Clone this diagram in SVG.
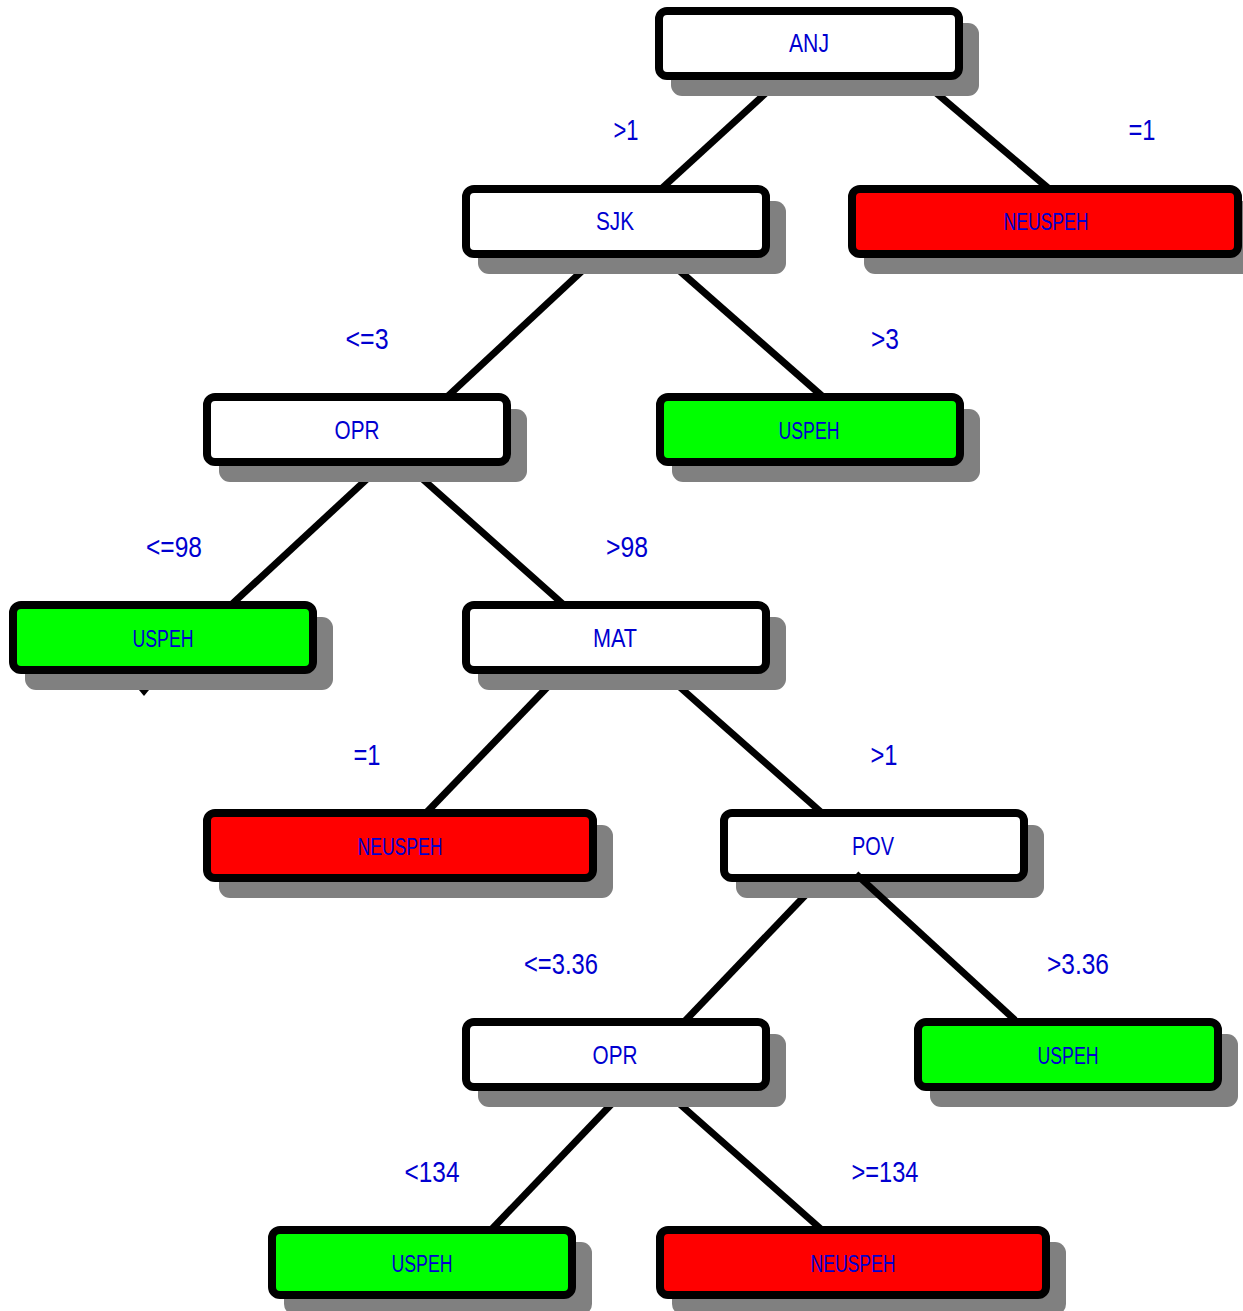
<svg xmlns="http://www.w3.org/2000/svg" width="1243" height="1311" viewBox="0 0 1243 1311">
<style>
.sh{fill:#808080}
.bx{stroke:#000;stroke-width:8}
.w{fill:#fff}.r{fill:#ff0000}.g{fill:#00ff00}
.t{font-family:"Liberation Sans",Arial,sans-serif;font-size:25px;fill:#0000d0;text-anchor:middle}
.lt{font-size:23px}
.lb{font-family:"Liberation Sans",Arial,sans-serif;font-size:29px;fill:#0000d0;text-anchor:middle}
.e{stroke:#000;stroke-width:7;fill:none}
</style>
<rect width="1243" height="1311" fill="#fff"/>
<g id="connectors">
<line class="e" x1="780" y1="80" x2="660" y2="190"/>
<line class="e" x1="921" y1="80" x2="1048" y2="188"/>
<line class="e" x1="596" y1="258" x2="448" y2="396"/>
<line class="e" x1="665" y1="258" x2="822" y2="396"/>
<line class="e" x1="381" y1="466" x2="231" y2="605"/>
<line class="e" x1="408" y1="466" x2="564" y2="605"/>
<line class="e" x1="560" y1="674" x2="426" y2="813"/>
<line class="e" x1="665" y1="674" x2="822" y2="813"/>
<line class="e" x1="818" y1="882" x2="684" y2="1022"/>
<line class="e" x1="624" y1="1091" x2="491" y2="1230"/>
<line class="e" x1="665" y1="1091" x2="822" y2="1230"/>
<polygon points="139,690 149,690 144,696" fill="#000"/>
</g>
<g id="labels">
<text class="lb" x="626" y="140" textLength="25" lengthAdjust="spacingAndGlyphs">&gt;1</text>
<text class="lb" x="1142" y="140" textLength="27" lengthAdjust="spacingAndGlyphs">=1</text>
<text class="lb" x="367" y="349" textLength="43" lengthAdjust="spacingAndGlyphs">&lt;=3</text>
<text class="lb" x="885" y="349" textLength="28" lengthAdjust="spacingAndGlyphs">&gt;3</text>
<text class="lb" x="174" y="557" textLength="56" lengthAdjust="spacingAndGlyphs">&lt;=98</text>
<text class="lb" x="627" y="557" textLength="42" lengthAdjust="spacingAndGlyphs">&gt;98</text>
<text class="lb" x="367" y="765" textLength="27" lengthAdjust="spacingAndGlyphs">=1</text>
<text class="lb" x="884" y="765" textLength="27" lengthAdjust="spacingAndGlyphs">&gt;1</text>
<text class="lb" x="561" y="974" textLength="74" lengthAdjust="spacingAndGlyphs">&lt;=3.36</text>
<text class="lb" x="1078" y="974" textLength="62" lengthAdjust="spacingAndGlyphs">&gt;3.36</text>
<text class="lb" x="432" y="1182" textLength="55" lengthAdjust="spacingAndGlyphs">&lt;134</text>
<text class="lb" x="885" y="1182" textLength="67" lengthAdjust="spacingAndGlyphs">&gt;=134</text>
</g>
<g id="n-anj"><rect class="sh" x="671" y="23" width="308" height="73" rx="11"/><rect class="bx w" x="659" y="11" width="300" height="65" rx="8"/><text class="t" x="809" y="52" textLength="40" lengthAdjust="spacingAndGlyphs">ANJ</text></g>
<g id="n-sjk"><rect class="sh" x="478" y="201" width="308" height="73" rx="11"/><rect class="bx w" x="466" y="189" width="300" height="65" rx="8"/><text class="t" x="615" y="230" textLength="38" lengthAdjust="spacingAndGlyphs">SJK</text></g>
<g id="n-neuspeh1"><rect class="sh" x="864" y="201" width="394" height="73" rx="11"/><rect class="bx r" x="852" y="189" width="386" height="65" rx="8"/><text class="t lt" x="1046" y="230" textLength="85" lengthAdjust="spacingAndGlyphs">NEUSPEH</text></g>
<g id="n-opr1"><rect class="sh" x="219" y="409" width="308" height="73" rx="11"/><rect class="bx w" x="207" y="397" width="300" height="65" rx="8"/><text class="t" x="357" y="439" textLength="45" lengthAdjust="spacingAndGlyphs">OPR</text></g>
<g id="n-uspeh1"><rect class="sh" x="672" y="409" width="308" height="73" rx="11"/><rect class="bx g" x="660" y="397" width="300" height="65" rx="8"/><text class="t lt" x="809" y="439" textLength="61" lengthAdjust="spacingAndGlyphs">USPEH</text></g>
<g id="n-uspeh2"><rect class="sh" x="25" y="617" width="308" height="73" rx="11"/><rect class="bx g" x="13" y="605" width="300" height="65" rx="8"/><text class="t lt" x="163" y="647" textLength="61" lengthAdjust="spacingAndGlyphs">USPEH</text></g>
<g id="n-mat"><rect class="sh" x="478" y="617" width="308" height="73" rx="11"/><rect class="bx w" x="466" y="605" width="300" height="65" rx="8"/><text class="t" x="615" y="647" textLength="44" lengthAdjust="spacingAndGlyphs">MAT</text></g>
<g id="n-neuspeh2"><rect class="sh" x="219" y="825" width="394" height="73" rx="11"/><rect class="bx r" x="207" y="813" width="386" height="65" rx="8"/><text class="t lt" x="400" y="855" textLength="85" lengthAdjust="spacingAndGlyphs">NEUSPEH</text></g>
<g id="n-pov"><rect class="sh" x="736" y="825" width="308" height="73" rx="11"/><rect class="bx w" x="724" y="813" width="300" height="65" rx="8"/><text class="t" x="873" y="855" textLength="42" lengthAdjust="spacingAndGlyphs">POV</text></g>
<g id="n-opr2"><rect class="sh" x="478" y="1034" width="308" height="73" rx="11"/><rect class="bx w" x="466" y="1022" width="300" height="65" rx="8"/><text class="t" x="615" y="1064" textLength="45" lengthAdjust="spacingAndGlyphs">OPR</text></g>
<g id="n-uspeh3"><rect class="sh" x="930" y="1034" width="308" height="73" rx="11"/><rect class="bx g" x="918" y="1022" width="300" height="65" rx="8"/><text class="t lt" x="1068" y="1064" textLength="61" lengthAdjust="spacingAndGlyphs">USPEH</text></g>
<g id="n-uspeh4"><rect class="sh" x="284" y="1242" width="308" height="73" rx="11"/><rect class="bx g" x="272" y="1230" width="300" height="65" rx="8"/><text class="t lt" x="422" y="1272" textLength="61" lengthAdjust="spacingAndGlyphs">USPEH</text></g>
<g id="n-neuspeh3"><rect class="sh" x="672" y="1242" width="394" height="73" rx="11"/><rect class="bx r" x="660" y="1230" width="386" height="65" rx="8"/><text class="t lt" x="853" y="1272" textLength="85" lengthAdjust="spacingAndGlyphs">NEUSPEH</text></g>
<g id="connectors-front">
<line class="e" x1="856" y1="874" x2="1015" y2="1020"/>
</g>
</svg>
